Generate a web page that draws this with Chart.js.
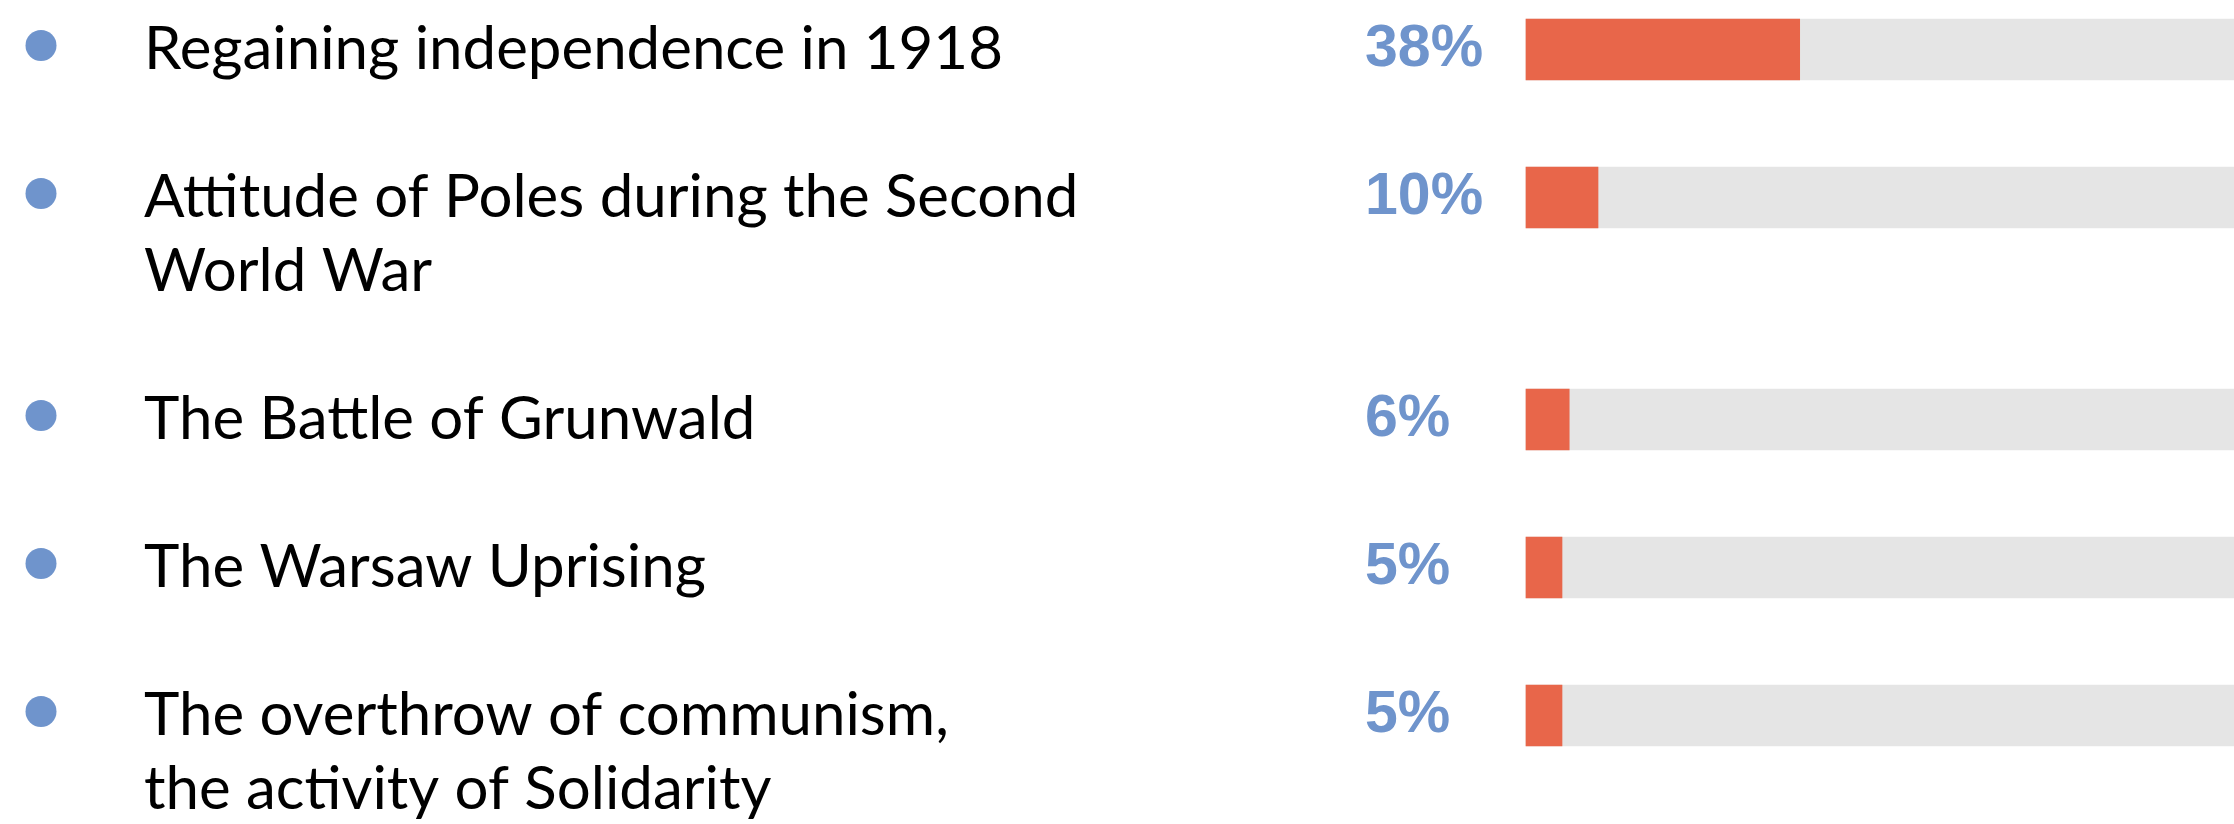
<!DOCTYPE html>
<html>
<head>
<meta charset="utf-8">
<script src="https://cdn.jsdelivr.net/npm/chart.js@4"></script>
<style>
  html, body { margin: 0; padding: 0; background: #fff; overflow: hidden; }
</style>
</head>
<body>
<canvas id="eventsChart" width="2234" height="824"></canvas>
<script>
// each category is a list of text lines
const categories = [
  ["Regaining independence in 1918"],
  ["Attitude of Poles during the Second", "World War"],
  ["The Battle of Grunwald"],
  ["The Warsaw Uprising"],
  ["The overthrow of communism,", "the activity of Solidarity"]
];
const values = [38, 10, 6, 5, 5];
const valueLabels = ["38%", "10%", "6%", "5%", "5%"];
const trackValue = 100;

// one axis slot per text line, plus an empty slot between items
const lineSlots = [];
const pctSlots = [];
const barSlots = [];
const trackSlots = [];
const firstSlot = [];
categories.forEach((lines, i) => {
  if (i > 0) {
    lineSlots.push("");
    pctSlots.push("");
    barSlots.push(null);
    trackSlots.push(null);
  }
  firstSlot.push(lineSlots.length);
  lines.forEach((line, j) => {
    lineSlots.push(line);
    pctSlots.push(j === 0 ? valueLabels[i] : "");
    barSlots.push(j === 0 ? values[i] : null);
    trackSlots.push(j === 0 ? trackValue : null);
  });
});

const bullets = {
  id: "bullets",
  afterDraw(chart) {
    const ctx = chart.ctx;
    const y = chart.scales.y;
    ctx.save();
    ctx.fillStyle = "#6f94cc";
    firstSlot.forEach((s) => {
      ctx.beginPath();
      ctx.arc(41, y.getPixelForValue(s) - 4, 15.5, 0, Math.PI * 2);
      ctx.fill();
    });
    ctx.restore();
  }
};

new Chart(document.getElementById("eventsChart").getContext("2d"), {
  type: "bar",
  data: {
    labels: lineSlots,
    datasets: [
      {
        data: barSlots,
        backgroundColor: "#e8664a",
        borderWidth: 0,
        barThickness: 61,
        grouped: false,
        clip: false
      },
      {
        data: trackSlots,
        backgroundColor: "#e5e5e5",
        borderWidth: 0,
        barThickness: 61,
        grouped: false,
        clip: false
      }
    ]
  },
  options: {
    indexAxis: "y",
    responsive: false,
    animation: false,
    devicePixelRatio: 1,
    layout: { padding: { left: 144, right: 0, top: 49.5, bottom: 34.5 } },
    plugins: {
      legend: { display: false },
      tooltip: { enabled: false }
    },
    scales: {
      x: { display: false, min: 0, max: 98.3 },
      y: {
        type: "category",
        position: "left",
        weight: 1,
        offset: false,
        grid: { display: false },
        border: { display: false },
        ticks: {
          autoSkip: false,
          crossAlign: "far",
          padding: 0,
          color: "#000",
          font: { family: "Lato, sans-serif", size: 60, lineHeight: 1 }
        },
        afterFit: (scale) => { scale.width = 1221; }
      },
      pct: {
        type: "category",
        labels: pctSlots,
        position: "left",
        weight: 0,
        offset: false,
        grid: { display: false },
        border: { display: false },
        ticks: {
          autoSkip: false,
          crossAlign: "far",
          padding: 0,
          color: "#6f94cc",
          font: { family: "'Liberation Sans', sans-serif", size: 59, weight: "bold", lineHeight: 1 }
        },
        afterFit: (scale) => { scale.width = 161; }
      }
    }
  },
  plugins: [bullets]
});
</script>
</body>
</html>
